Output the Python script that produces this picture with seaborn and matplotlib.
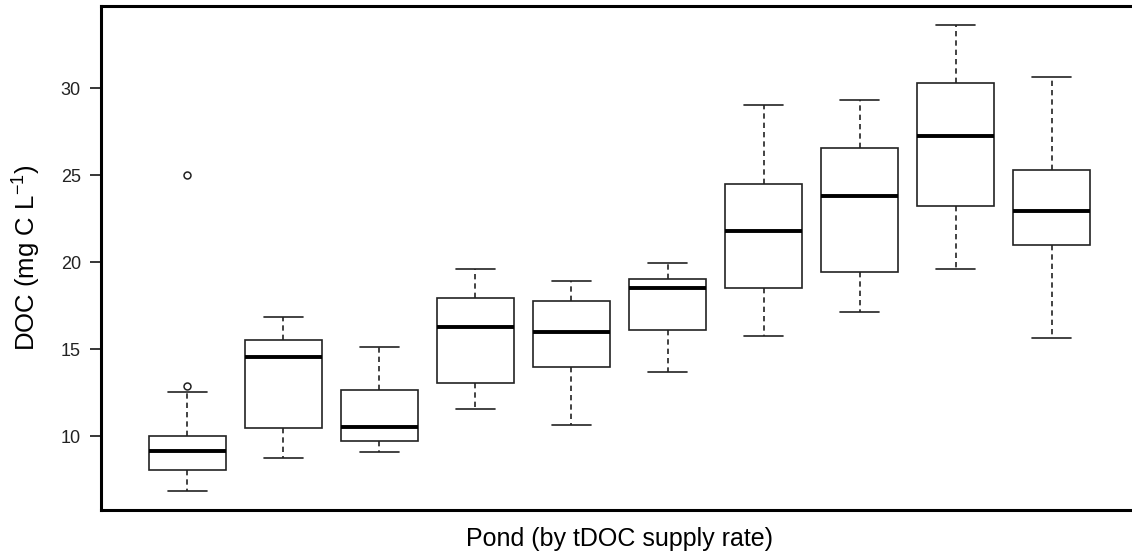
import numpy as np
import pandas as pd
import matplotlib
matplotlib.use("Agg")
import matplotlib.pyplot as plt
import seaborn as sns

# five-number summaries, one entry per pond
ponds = ["P1", "P2", "P3", "P4", "P5", "P6", "P7", "P8", "P9", "P10"]
whisker_low = [6.82, 8.72, 9.06, 11.55, 10.63, 13.70, 15.76, 17.11, 19.58, 15.61]
q1 = [8.05, 10.48, 9.71, 13.03, 13.97, 16.11, 18.52, 19.42, 23.24, 20.99]
median = [9.14, 14.52, 10.54, 16.28, 15.96, 18.50, 21.76, 23.81, 27.22, 22.91]
q3 = [10.00, 15.53, 12.64, 17.95, 17.78, 19.02, 24.50, 26.57, 30.29, 25.30]
whisker_high = [12.55, 16.86, 15.11, 19.60, 18.92, 19.93, 29.02, 29.31, 33.62, 30.61]

outlier_pond = ["P1", "P1"]
outlier_value = [12.87, 25.0]

y_ticks = [10, 15, 20, 25, 30]

# 5 points per pond -> numpy percentiles land exactly on q1 / median / q3
rows = []
for i, p in enumerate(ponds):
    for v in (whisker_low[i], q1[i], median[i], q3[i], whisker_high[i]):
        rows.append({"pond": p, "doc": v})
df = pd.DataFrame(rows)

sns.set_theme(style="ticks")
plt.rcParams["font.family"] = ["Liberation Sans", "DejaVu Sans"]
plt.rcParams["mathtext.fontset"] = "custom"
plt.rcParams["mathtext.rm"] = "Liberation Sans"
plt.rcParams["mathtext.it"] = "Liberation Sans"

fig = plt.figure(figsize=(11.32, 5.56), dpi=100, facecolor="white")
ax = fig.add_axes([101 / 1132, 1 - 510 / 556, 1037 / 1132, 503.6 / 556])

line_col = "#222222"
sns.boxplot(
    data=df, x="pond", y="doc", order=ponds, ax=ax,
    whis=np.inf, width=0.8, color="white", linecolor=line_col, linewidth=1.2,
    medianprops={"linewidth": 2.8, "color": "black"},
    whiskerprops={"linestyle": (0, (3.2, 2.4))},
    capprops={"linestyle": "-"},
)

sns.stripplot(
    x=outlier_pond, y=outlier_value, order=ponds, ax=ax,
    jitter=False, color="white", edgecolor=line_col, linewidth=1.1, size=5,
    zorder=5,
)

ax.set_xlim(-0.9, 9.9)
ax.set_ylim(5.75, 34.69)
ax.set_xticks([])
ax.set_yticks(y_ticks)
ax.set_yticklabels([str(t) for t in y_ticks])
ax.tick_params(axis="y", length=8, width=1.1, direction="out", pad=6.5,
               labelsize=13, colors="black", labelcolor="#222222")

for side in ["left", "right", "top", "bottom"]:
    ax.spines[side].set_visible(True)
    ax.spines[side].set_linewidth(2.2)
    ax.spines[side].set_color("black")

ax.set_xlabel("Pond (by tDOC supply rate)", fontsize=18, labelpad=12, color="black")
ax.set_ylabel("DOC (mg C L$^{-1}$)", fontsize=18.5, labelpad=13, color="black")

fig.savefig("out.png", dpi=100, facecolor="white")
plt.close(fig)
